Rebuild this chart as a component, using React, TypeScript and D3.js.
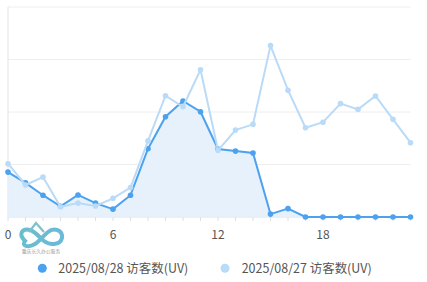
import React from "react";
import * as d3 from "d3";

const hours = d3.range(0, 24);
const tickLabels = [0, 6, 12, 18];
const series28 = [17.1, 13, 8.3, 4.1, 8.4, 5.3, 3, 8.3, 26, 38.2, 44.2, 40.1, 25.9, 25.1, 24.4, 1.1, 3.2, 0, 0, 0, 0, 0, 0, 0];
const series27 = [20.3, 12.2, 15.2, 3.9, 5.3, 4.2, 7.1, 11.2, 29, 46.2, 42, 56.1, 25.4, 33.1, 35.3, 65.3, 48.3, 34, 36.1, 43.2, 41, 46.1, 37.2, 28.3];
const legendNames = ["2025/08/28 访客数(UV)", "2025/08/27 访客数(UV)"];
const yTicks = [0, 20, 40, 60, 80];

const W = 427, H = 282;
const left = 8, right = 410.5, top = 7, bottom = 217;
const darkColor = "#4ca2ee";
const lightColor = "#b9dbf8";
const font = "'Noto Sans CJK SC', 'Noto Sans', sans-serif";

export default function App() {
  const x = d3.scaleLinear().domain([0, 23]).range([left, right]);
  const y = d3.scaleLinear().domain([0, 80]).range([bottom, top]);
  const line = d3.line<number>().x((_, i) => x(i)).y((d) => y(d));
  const area = d3.area<number>().x((_, i) => x(i)).y0(y(0)).y1((d) => y(d));

  return (
    <svg width={W} height={H} style={{ position: "absolute", left: 0, top: 0, background: "#fff" }}>
      {yTicks.slice(1).map((t) => (
        <line key={t} x1={left} x2={right} y1={y(t)} y2={y(t)} stroke="#eeeeee" strokeWidth={1} />
      ))}
      <line x1={left} x2={left} y1={top} y2={bottom} stroke="#e4e4e4" strokeWidth={1} />
      <line x1={left} x2={right} y1={bottom} y2={bottom} stroke="#e0e0e0" strokeWidth={1} />
      {hours.map((h) => (
        <line key={h} x1={x(h)} x2={x(h)} y1={bottom} y2={bottom + 4} stroke="#e0e0e0" />
      ))}
      {tickLabels.map((t) => (
        <text key={t} x={x(t)} y={239} textAnchor="middle" fontSize={12} fill="#555" fontFamily={font}>
          {t}
        </text>
      ))}

      {/* watermark logo */}
      <g opacity={0.85}>
        <defs>
          <linearGradient id="lg" x1="0" x2="1" y1="0" y2="0">
            <stop offset="0" stopColor="#4fb3c6" />
            <stop offset="1" stopColor="#52afd3" />
          </linearGradient>
        </defs>
        <path d="M25,241 C18,234 22,228 30,230 C36,232 40,238 44,241 C49,245 60,246 62,238 C63,230 54,227 48,232 C44,235 40,241 35,244 C28,248 21,246 25,241 Z"
          fill="none" stroke="url(#lg)" strokeWidth={4} />
        <path d="M29,232 L36,223 L44,232" fill="none" stroke="#6ab6c4" strokeWidth={2.2} />
        <path d="M34,227 L38,231" fill="none" stroke="#ffffff" strokeWidth={1} />
        <text x={41} y={253} textAnchor="middle" fontSize={4.8} fill="#8a8f96" fontFamily={font}>重庆长久办公服务</text>
      </g>

      <path d={area(series28) || ""} fill="#e3f0fc" opacity={0.9} />
      <path d={line(series28) || ""} fill="none" stroke={darkColor} strokeWidth={2} />
      {series28.map((d, i) => (
        <circle key={i} cx={x(i)} cy={y(d)} r={2.8} fill={darkColor} />
      ))}
      <path d={line(series27) || ""} fill="none" stroke={lightColor} strokeWidth={2} />
      {series27.map((d, i) => (
        <circle key={i} cx={x(i)} cy={y(d)} r={2.8} fill={lightColor} />
      ))}

      <circle cx={42.3} cy={268.3} r={4.5} fill={darkColor} />
      <text x={58.3} y={272.7} fontSize={12.5} textLength={130} lengthAdjust="spacingAndGlyphs" fill="#555" fontFamily={font}>{legendNames[0]}</text>
      <circle cx={225} cy={268.3} r={4.5} fill={lightColor} />
      <text x={241.7} y={272.7} fontSize={12.5} textLength={130} lengthAdjust="spacingAndGlyphs" fill="#555" fontFamily={font}>{legendNames[1]}</text>
    </svg>
  );
}
